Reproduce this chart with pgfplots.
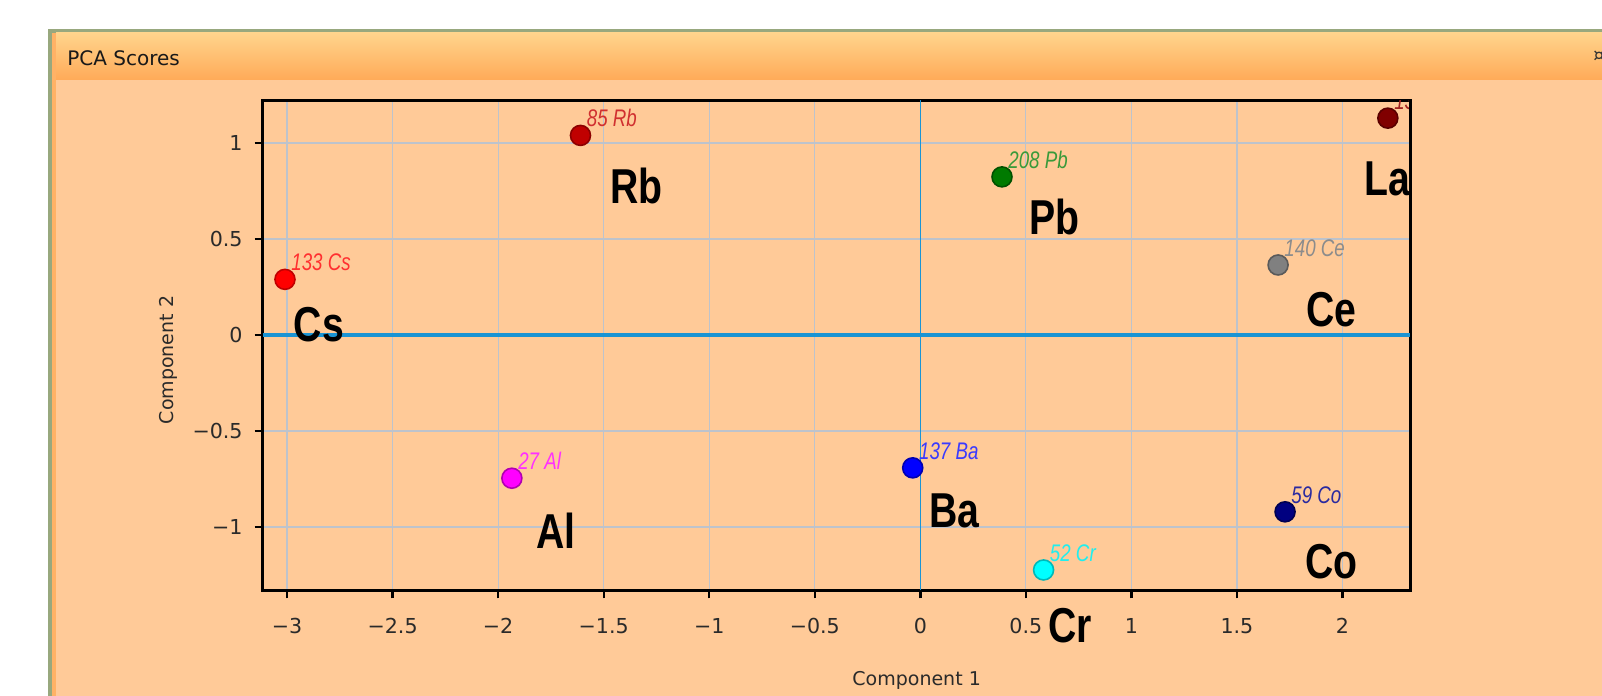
\documentclass[border=0pt]{standalone}
\usepackage{fontspec}
\setmainfont{DejaVu Sans}
\newfontfamily\bigfont{Liberation Sans}
\usepackage{graphicx}
\usepackage{pgfplots}
\pgfplotsset{compat=1.18}

\definecolor{bord}{HTML}{98A87E}
\definecolor{stripe}{HTML}{FFB266}
\definecolor{body}{HTML}{FFCA98}
\definecolor{tbtop}{HTML}{FFD48C}
\definecolor{tbbot}{HTML}{FFAA58}
\definecolor{gridc}{HTML}{BDC3CC}
\definecolor{zeroc}{HTML}{1A94D4}
\definecolor{txt}{HTML}{2A2A2A}
% points
\definecolor{cCs}{HTML}{FF0000}\definecolor{dCs}{HTML}{C00000}\definecolor{lCs}{HTML}{FF3030}
\definecolor{cRb}{HTML}{C00000}\definecolor{dRb}{HTML}{8C0000}\definecolor{lRb}{HTML}{D03030}
\definecolor{cLa}{HTML}{800000}\definecolor{dLa}{HTML}{5A0000}\definecolor{lLa}{HTML}{A02020}
\definecolor{cPb}{HTML}{007A00}\definecolor{dPb}{HTML}{005000}\definecolor{lPb}{HTML}{3A9A3A}
\definecolor{cCe}{HTML}{808080}\definecolor{dCe}{HTML}{5A5A5A}\definecolor{lCe}{HTML}{8C8C8C}
\definecolor{cAl}{HTML}{FF00FF}\definecolor{dAl}{HTML}{B000B0}\definecolor{lAl}{HTML}{FF30FF}
\definecolor{cBa}{HTML}{0000FF}\definecolor{dBa}{HTML}{0000B0}\definecolor{lBa}{HTML}{3A3AFF}
\definecolor{cCo}{HTML}{000080}\definecolor{dCo}{HTML}{000050}\definecolor{lCo}{HTML}{2A2AA0}
\definecolor{cCr}{HTML}{00FFFF}\definecolor{dCr}{HTML}{00B8B8}\definecolor{lCr}{HTML}{20EEEE}

\newcommand\bigf{\bigfont\bfseries\fontsize{24.5}{28}\selectfont}
\newcommand\smf{\bigfont\itshape\fontsize{12}{14}\selectfont}
\newcommand\BL[1]{\scalebox{0.8}[1]{#1}}
\newcommand\SL[1]{\scalebox{0.78}[1]{#1}}

\begin{document}
\begin{tikzpicture}[x=1pt,y=1pt]
\useasboundingbox (0,0) rectangle (801,348);
\fill[white] (0,0) rectangle (801,348);
\fill[bord] (24,0) rectangle (801,333.5);
\fill[stripe] (26,0) rectangle (801,331.5);
\fill[body] (28,0) rectangle (801,308);
\shade[top color=tbtop,bottom color=tbbot] (28,308) rectangle (801,331.5);
\node[anchor=west,inner sep=0,font=\fontsize{10}{12}\selectfont,text=black!90] at (33.5,319) {PCA Scores};
\node[anchor=west,inner sep=0,font=\fontsize{9}{10}\selectfont,text=black!80] at (796.5,320) {¤};

\begin{axis}[
  at={(131.3pt,52.75pt)}, anchor=south west,
  scale only axis, width=573.7pt, height=245.2pt,
  xmin=-3.116, xmax=2.32, ymin=-1.331, ymax=1.224,
  xtick={-3,-2.5,-2,-1.5,-1,-0.5,0,0.5,1,1.5,2},
  xticklabels={−3,−2.5,−2,−1.5,−1,−0.5,0,0.5,1,1.5,2},
  ytick={-1,-0.5,0,0.5,1},
  yticklabels={−1,−0.5,0,0.5,1},
  grid=major, grid style={gridc, line width=0.6pt},
  axis line style={line width=1.5pt, black},
  tick align=outside, tick pos=left, major tick length=4pt,
  tick style={line width=1.2pt, black},
  axis background/.style={fill=body},
  ticklabel style={font=\fontsize{10.3}{12}\selectfont, text=txt},
  xticklabel style={yshift=-6.5pt},
  yticklabel style={xshift=-2.5pt},
  xlabel={Component 1}, ylabel={Component 2},
  label style={font=\fontsize{9.5}{11}\selectfont, text=txt},
  xlabel style={at={(axis description cs:0.57,-0.184)}, anchor=center},
  ylabel style={at={(axis description cs:-0.082,0.47)}, anchor=center},
  clip=false,
]
\draw[zeroc, line width=1.6pt] (axis cs:-3.116,0) -- (axis cs:2.32,0);
\draw[zeroc, line width=0.8pt] (axis cs:0,-1.331) -- (axis cs:0,1.224);

\addplot[only marks, mark=*, mark size=5pt, mark options={fill=cCs, draw=dCs, line width=0.8pt}] coordinates {(-3.01,0.29)};
\addplot[only marks, mark=*, mark size=5pt, mark options={fill=cRb, draw=dRb, line width=0.8pt}] coordinates {(-1.61,1.04)};
\addplot[only marks, mark=*, mark size=5pt, mark options={fill=cLa, draw=dLa, line width=0.8pt}] coordinates {(2.215,1.13)};
\addplot[only marks, mark=*, mark size=5pt, mark options={fill=cPb, draw=dPb, line width=0.8pt}] coordinates {(0.387,0.824)};
\addplot[only marks, mark=*, mark size=5pt, mark options={fill=cCe, draw=dCe, line width=0.8pt}] coordinates {(1.695,0.365)};
\addplot[only marks, mark=*, mark size=5pt, mark options={fill=cAl, draw=dAl, line width=0.8pt}] coordinates {(-1.935,-0.746)};
\addplot[only marks, mark=*, mark size=5pt, mark options={fill=cBa, draw=dBa, line width=0.8pt}] coordinates {(-0.036,-0.692)};
\addplot[only marks, mark=*, mark size=5pt, mark options={fill=cCo, draw=dCo, line width=0.8pt}] coordinates {(1.728,-0.921)};
\addplot[only marks, mark=*, mark size=5pt, mark options={fill=cCr, draw=dCr, line width=0.8pt}] coordinates {(0.584,-1.224)};

% small italic labels
\node[anchor=south west,inner sep=0,xshift=3pt,yshift=4pt,text=lCs,font=\smf] at (axis cs:-3.01,0.29) {\SL{133 Cs}};
\node[anchor=south west,inner sep=0,xshift=3pt,yshift=4pt,text=lRb,font=\smf] at (axis cs:-1.61,1.04) {\SL{85 Rb}};
\node[anchor=south west,inner sep=0,xshift=3pt,yshift=4pt,text=lPb,font=\smf] at (axis cs:0.387,0.824) {\SL{208 Pb}};
\node[anchor=south west,inner sep=0,xshift=3pt,yshift=4pt,text=lCe,font=\smf] at (axis cs:1.695,0.365) {\SL{140 Ce}};
\node[anchor=south west,inner sep=0,xshift=3pt,yshift=4pt,text=lAl,font=\smf] at (axis cs:-1.935,-0.746) {\SL{27 Al}};
\node[anchor=south west,inner sep=0,xshift=3pt,yshift=4pt,text=lBa,font=\smf] at (axis cs:-0.036,-0.692) {\SL{137 Ba}};
\node[anchor=south west,inner sep=0,xshift=3pt,yshift=4pt,text=lCo,font=\smf] at (axis cs:1.728,-0.921) {\SL{59 Co}};
\node[anchor=south west,inner sep=0,xshift=3pt,yshift=4pt,text=lCr,font=\smf] at (axis cs:0.584,-1.224) {\SL{52 Cr}};

% big element labels
\node[font=\bigf] at (axis cs:-2.849,0.053) {\BL{Cs}};
\node[font=\bigf] at (axis cs:-1.344,0.776) {\BL{Rb}};
\node[font=\bigf] at (axis cs:0.637,0.617) {\BL{Pb}};
\node[font=\bigf] at (axis cs:1.949,0.132) {\BL{Ce}};
\node[font=\bigf] at (axis cs:-1.726,-1.022) {\BL{Al}};
\node[font=\bigf] at (axis cs:0.163,-0.916) {\BL{Ba}};
\node[font=\bigf] at (axis cs:1.949,-1.182) {\BL{Co}};
\node[font=\bigf] at (axis cs:0.709,-1.512) {\BL{Cr}};

\coordinate (pLa) at (axis cs:2.215,0.814);
\coordinate (sLa) at (axis cs:2.215,1.13);
\coordinate (ll) at (rel axis cs:0,0);
\coordinate (ur) at (rel axis cs:1,1);
\end{axis}
\begin{scope}
\clip ([xshift=-0.75pt]ll) rectangle ([xshift=-0.75pt]ur);
\node[font=\bigf] at (pLa) {\BL{La}};
\node[anchor=south west,inner sep=0,xshift=3pt,yshift=4pt,text=lLa,font=\smf] at (sLa) {\SL{139 La}};
\end{scope}
\end{tikzpicture}
\end{document}
